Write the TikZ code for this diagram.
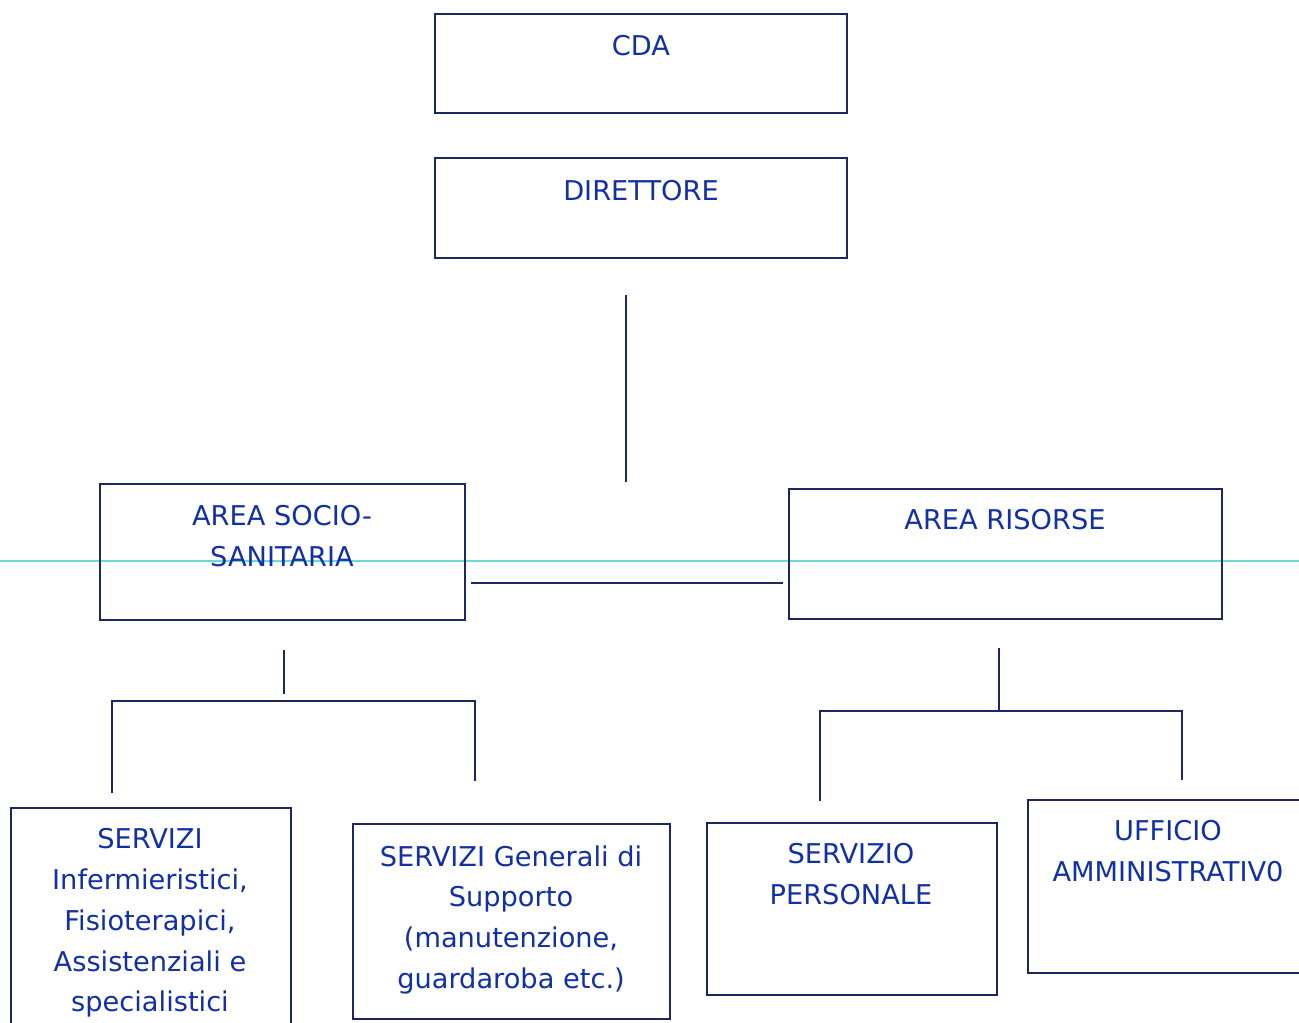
\documentclass[tikz,border=0pt]{standalone}
\usepackage{fontspec}
\setmainfont{DejaVu Sans}
\usetikzlibrary{fit}
\definecolor{txtblue}{RGB}{18,48,165}
\definecolor{boxnavy}{RGB}{28,38,98}
\definecolor{scancyan}{RGB}{110,215,215}
\tikzset{
  box/.style={draw=boxnavy, line width=1.2pt, inner sep=0pt, rectangle},
  lbl/.style={text=txtblue, font=\fontsize{15.5}{23.25}\selectfont, align=center, inner sep=0pt, anchor=north},
  conn/.style={draw=boxnavy, line width=1.5pt},
}
\begin{document}
\begin{tikzpicture}[x=0.02cm,y=-0.02cm]
\useasboundingbox (0,0) rectangle (1299,1023);
\clip (0,0) rectangle (1299,1023);
\fill[white] (0,0) rectangle (1299,1023);
% faint scan line
\coordinate (scanL) at (0,561);
\coordinate (scanR) at (1299,561);
\draw[scancyan, line width=0.6pt] (scanL) -- (scanR);

% boxes
\node[box, fit={(435,14) (847,113)}] (cda) {};
\node[box, fit={(435,158) (847,258)}] (dir) {};
\node[box, fit={(100,484) (465,620)}] (socio) {};
\node[box, fit={(789,489) (1222,619)}] (risorse) {};
\node[box, fit={(11,808) (291,1040)}] (inferm) {};
\node[box, fit={(353,824) (670,1019)}] (generali) {};
\node[box, fit={(707,823) (997,995)}] (personale) {};
\node[box, fit={(1028,800) (1310,973)}] (ufficio) {};

% labels
\node[lbl] (cdaT) at (641,35) {CDA};
\node[lbl] (dirT) at (641,180) {DIRETTORE};
\node[lbl] (socioT) at (282,505) {AREA SOCIO-\\SANITARIA};
\node[lbl] (risorseT) at (1005,509) {AREA RISORSE};
\node[lbl] (infermT) at (150,828) {SERVIZI\\Infermieristici,\\Fisioterapici,\\Assistenziali e\\specialistici};
\node[lbl] (generaliT) at (511,845) {SERVIZI Generali di\\Supporto\\(manutenzione,\\guardaroba etc.)};
\node[lbl] (personaleT) at (851,843) {SERVIZIO\\PERSONALE};
\node[lbl] (ufficioT) at (1168,820) {UFFICIO\\AMMINISTRATIV0};

% connector end points
\coordinate (vTop) at (626,295);
\coordinate (vBot) at (626,482);
\coordinate (hL) at (471,583);
\coordinate (hR) at (783,583);

\coordinate (lStemT) at (284,650);
\coordinate (lStemB) at (284,694);
\coordinate (lBarL) at (112,701);
\coordinate (lBarR) at (475,701);
\coordinate (lLegL) at (112,793);
\coordinate (lLegR) at (475,781);

\coordinate (rStemT) at (999,648);
\coordinate (rStemB) at (999,711);
\coordinate (rBarL) at (820,711);
\coordinate (rBarR) at (1182,711);
\coordinate (rLegL) at (820,801);
\coordinate (rLegR) at (1182,780);

% connectors
\draw[conn] (vTop) -- (vBot);
\draw[conn] (hL) -- (hR);
\draw[conn] (lStemT) -- (lStemB);
\draw[conn] (lLegL) -- (lBarL) -- (lBarR) -- (lLegR);
\draw[conn] (rStemT) -- (rStemB);
\draw[conn] (rLegL) -- (rBarL) -- (rBarR) -- (rLegR);
\end{tikzpicture}
\end{document}
